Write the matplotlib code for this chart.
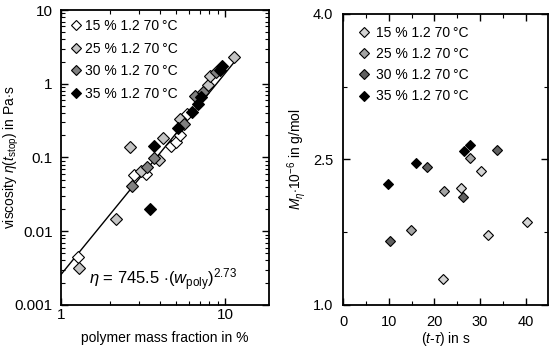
import numpy as np
import matplotlib.pyplot as plt

plt.rcParams['font.family'] = ['Liberation Sans', 'DejaVu Sans']
plt.rcParams['mathtext.fontset'] = 'custom'
plt.rcParams['mathtext.rm'] = 'Liberation Sans'
plt.rcParams['mathtext.it'] = 'Liberation Sans:italic'

labels = ['15 % 1.2 70\u2009°C', '25 % 1.2 70\u2009°C', '30 % 1.2 70\u2009°C', '35 % 1.2 70\u2009°C']

# left panel: polymer mass fraction (%) vs viscosity (Pa s)
w15 = [1.26, 2.78, 3.31, 4.68, 5.02, 5.34, 5.85]
eta15 = [0.0045, 0.058, 0.060, 0.145, 0.164, 0.202, 0.389]
w25 = [1.29, 2.15, 2.65, 3.08, 3.95, 4.17, 5.34, 7.9, 8.09, 11.3]
eta25 = [0.0032, 0.0145, 0.137, 0.066, 0.0925, 0.182, 0.333, 0.96, 1.27, 2.28]
w30 = [2.70, 3.35, 3.68, 5.59, 6.56, 7.35, 8.77]
eta30 = [0.0415, 0.075, 0.0975, 0.282, 0.69, 0.78, 1.46]
w35 = [3.49, 3.68, 5.19, 6.24, 6.85, 7.12, 9.3, 9.6]
eta35 = [0.020, 0.145, 0.249, 0.418, 0.53, 0.655, 1.53, 1.74]

fit_a = 745.5
fit_b = 2.73

# right panel: (t - tau) in s vs M_eta * 1e-6 in g/mol
t15 = [21.8, 25.9, 30.3, 31.7, 40.3]
m15 = [1.27, 2.21, 2.38, 1.72, 1.85]
t25 = [14.8, 22.2, 27.8]
m25 = [1.77, 2.17, 2.51]
t30 = [10.2, 18.3, 26.3, 33.8]
m30 = [1.66, 2.42, 2.11, 2.60]
t35 = [9.9, 16.0, 26.4, 27.8]
m35 = [2.25, 2.465, 2.59, 2.65]

fig = plt.figure(figsize=(5.5, 3.48), dpi=100)
ax1 = fig.add_axes([0.111, 0.124, 0.378, 0.847])
ax2 = fig.add_axes([0.624, 0.124, 0.373, 0.836])

# left
wl = np.array([1.0, 11.3])
ax1.plot(wl, fit_a * (wl / 100) ** fit_b, color='black', lw=1.0, zorder=2)
cols1 = ['white', '#c4c4c4', '#808080', 'black']
for xs, ys, c, lab in zip([w15, w25, w30, w35], [eta15, eta25, eta30, eta35], cols1, labels):
    ax1.plot(xs, ys, ls='none', marker='D', ms=6.5, mfc=c, mec='black', mew=0.8,
             label=lab, zorder=3)
ax1.set_xscale('log')
ax1.set_yscale('log')
ax1.set_xlim(1, 18.5)
ax1.set_ylim(0.001, 10)
ax1.set_xticks([1, 10])
ax1.set_xticklabels(['1', '10'])
ax1.set_yticks([0.001, 0.01, 0.1, 1, 10])
ax1.set_yticklabels(['0.001', '0.01', '0.1', '1', '10'])
ax1.set_xlabel('polymer mass fraction in %', fontsize=10)
ax1.set_ylabel(r'viscosity $\mathit{\eta}$($\mathit{t}_{\rm stop}$) in Pa$\cdot$s', fontsize=10)
ax1.yaxis.set_label_coords(-0.195, 0.5)
ax1.xaxis.set_label_coords(0.5, -0.09)
ax1.text(1.47, 0.0019, r'$\mathit{\eta}$ = 745.5 $\cdot$($\mathit{w}_{\rm poly}$)$^{2.73}$', fontsize=12)
ax1.legend(loc='upper left', frameon=False, fontsize=10, handlelength=0.8,
           handletextpad=0.25, labelspacing=0.62, borderaxespad=0.25, markerscale=0.8)

# right
cols2 = ['#d4d4d4', '#a4a4a4', '#606060', 'black']
for xs, ys, c, lab in zip([t15, t25, t30, t35], [m15, m25, m30, m35], cols2, labels):
    ax2.plot(xs, ys, ls='none', marker='D', ms=5.5, mfc=c, mec='black', mew=0.8,
             label=lab)
ax2.set_xlim(0, 45)
ax2.set_ylim(1.0, 4.0)
ax2.set_xticks([0, 10, 20, 30, 40])
ax2.set_xticks([5, 15, 25, 35], minor=True)
ax2.set_yticks([1.0, 2.5, 4.0])
ax2.set_yticks([1.75, 3.25], minor=True)
ax2.set_xlabel(r'($\mathit{t}$-$\mathit{\tau}$) in s', fontsize=10)
ax2.set_ylabel(r'$\mathit{M}_{\mathit{\eta}}$$\cdot$10$^{-6}$ in g/mol', fontsize=10)
ax2.yaxis.set_label_coords(-0.17, 0.5)
ax2.xaxis.set_label_coords(0.5, -0.085)
ax2.legend(loc='upper left', bbox_to_anchor=(0, 1.012), frameon=False, fontsize=10,
           handlelength=0.8, handletextpad=0.45, labelspacing=0.52, borderaxespad=0.7,
           markerscale=0.85)

for ax in (ax1, ax2):
    for s in ax.spines.values():
        s.set_linewidth(1.3)
    ax.tick_params(which='both', direction='in', top=True, right=True)
    ax.tick_params(which='major', length=5, width=1)
    ax.tick_params(which='minor', length=3, width=0.8)

ax1.tick_params(axis='y', labelsize=11, pad=6)
ax1.tick_params(axis='x', labelsize=11, pad=2)
ax2.tick_params(axis='y', labelsize=10.5, pad=7)
ax2.tick_params(axis='x', labelsize=10.5, pad=7)

fig.savefig('out.png', dpi=100)
